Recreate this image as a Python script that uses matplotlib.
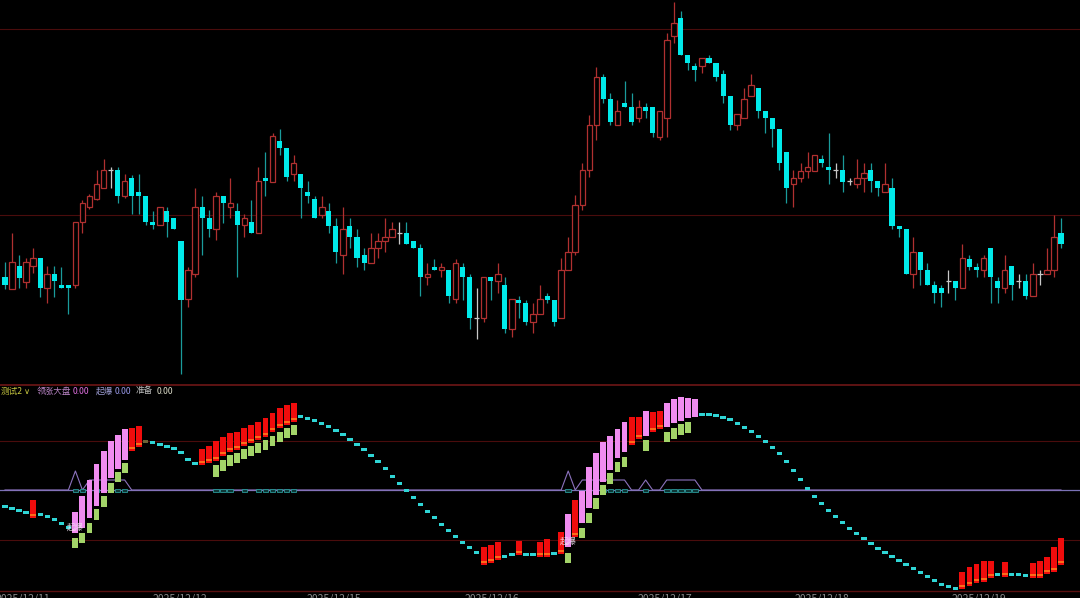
import numpy as np
import matplotlib
matplotlib.use("Agg")
from matplotlib import pyplot as plt
from matplotlib import transforms as mtrans

plt.rcParams['font.family'] = ['Noto Sans CJK SC', 'DejaVu Sans']

# ---- price bars (151 intraday bars) ----
open_ = [123, 111, 134, 118, 134, 142, 112, 126, 115, 115,
         115, 178, 193, 201, 212, 230, 230, 204, 222, 208,
         204, 178, 175, 189, 182, 159, 101, 126, 193, 182,
         171, 204, 193, 189, 175, 178, 167, 222, 218, 259,
         252, 226, 226, 208, 201, 185, 189, 174, 145, 174,
         163, 145, 137, 152, 159, 163, 167, 167, 159, 152,
         123, 133, 130, 130, 101, 133, 123, 82, 82, 123,
         119, 115, 71, 100, 97, 78, 86, 104, 100, 82,
         130, 148, 195, 230, 275, 323, 301, 275, 297, 293,
         282, 293, 293, 263, 282, 364, 382, 345, 334, 334,
         342, 337, 326, 304, 275, 282, 304, 312, 289, 282,
         271, 248, 216, 222, 229, 229, 241, 233, 230, 230,
         219, 216, 222, 230, 219, 208, 212, 174, 171, 126,
         148, 130, 115, 112, 119, 119, 112, 141, 133, 130,
         152, 119, 112, 134, 119, 119, 104, 126, 126, 130,
         167]
high = [138, 167, 145, 142, 152, 142, 134, 134, 133, 115,
        178, 200, 206, 230, 241, 233, 233, 226, 225, 226,
        204, 189, 193, 193, 182, 159, 133, 212, 204, 190,
        208, 204, 222, 197, 186, 200, 233, 248, 267, 271,
        252, 245, 226, 219, 204, 204, 197, 182, 193, 182,
        171, 152, 167, 167, 182, 178, 178, 178, 159, 156,
        137, 141, 137, 130, 141, 137, 126, 112, 123, 123,
        137, 123, 101, 104, 100, 97, 115, 107, 100, 142,
        163, 205, 237, 285, 333, 326, 307, 300, 319, 307,
        300, 297, 293, 289, 367, 398, 389, 345, 337, 342,
        345, 337, 330, 304, 286, 312, 326, 312, 289, 282,
        271, 248, 230, 237, 248, 245, 245, 267, 237, 245,
        222, 241, 237, 237, 219, 237, 222, 174, 171, 163,
        148, 137, 119, 115, 130, 119, 156, 145, 137, 145,
        152, 123, 145, 134, 126, 126, 137, 130, 152, 185,
        182]
low = [111, 111, 112, 112, 127, 103, 97, 103, 112, 86,
       112, 167, 191, 200, 212, 212, 197, 202, 186, 186,
       175, 171, 175, 163, 171, 26, 93, 123, 145, 163,
       160, 177, 182, 123, 163, 167, 167, 204, 218, 245,
       219, 219, 182, 197, 182, 182, 167, 137, 126, 152,
       133, 130, 137, 142, 148, 163, 156, 156, 152, 104,
       115, 130, 123, 97, 97, 100, 71, 61, 78, 100,
       107, 67, 63, 82, 75, 67, 86, 97, 74, 82,
       130, 145, 190, 223, 260, 297, 275, 275, 293, 275,
       278, 282, 263, 260, 263, 357, 345, 330, 319, 327,
       337, 319, 297, 270, 270, 282, 304, 282, 267, 253,
       230, 197, 193, 218, 222, 229, 233, 216, 222, 208,
       215, 212, 208, 208, 204, 208, 171, 163, 126, 112,
       115, 115, 97, 93, 107, 100, 112, 130, 123, 123,
       97, 97, 107, 100, 112, 101, 104, 115, 126, 123,
       152]
close = [115, 138, 122, 138, 142, 112, 126, 119, 112, 112,
         178, 197, 204, 216, 230, 230, 204, 219, 204, 204,
         178, 175, 193, 178, 171, 100, 130, 193, 182, 171,
         204, 197, 197, 175, 182, 167, 219, 219, 264, 252,
         223, 237, 212, 204, 182, 193, 174, 148, 171, 163,
         142, 137, 152, 159, 163, 171, 167, 156, 152, 123,
         126, 130, 133, 104, 137, 123, 82, 82, 123, 119,
         126, 71, 101, 97, 78, 86, 101, 100, 78, 130,
         148, 195, 230, 275, 323, 301, 278, 289, 293, 278,
         293, 289, 267, 289, 360, 377, 345, 337, 330, 342,
         337, 323, 304, 275, 286, 301, 315, 289, 282, 271,
         237, 212, 222, 229, 233, 245, 237, 230, 230, 218,
         219, 222, 227, 219, 212, 216, 174, 171, 126, 148,
         130, 115, 107, 107, 119, 112, 142, 133, 130, 142,
         123, 112, 130, 115, 119, 104, 126, 126, 130, 163,
         156]

# ---- indicator "测试2" ----
wave = [94, 92, 90, 88, 82, 86, 84, 81, 77, 73,
        67, 72, 82, 94, 107, 122, 131, 140, 149, 153,
        159, 158, 156, 154, 152, 148, 141, 137, 135, 137,
        139, 144, 148, 150, 154, 157, 160, 163, 168, 172,
        175, 178, 184, 182, 180, 177, 174, 170, 166, 161,
        156, 151, 145, 139, 132, 124, 117, 110, 103, 96,
        89, 83, 76, 70, 64, 58, 53, 48, 35, 37,
        40, 44, 46, 45, 46, 46, 43, 43, 47, 46,
        53, 63, 77, 92, 105, 118, 130, 142, 148, 155,
        161, 164, 168, 171, 173, 177, 179, 182, 183, 186,
        186, 185, 183, 181, 177, 173, 169, 164, 159, 153,
        147, 139, 130, 121, 112, 104, 97, 90, 84, 78,
        72, 67, 62, 57, 52, 48, 44, 40, 36, 32,
        28, 24, 20, 16, 14, 12, 11, 14, 17, 18,
        22, 26, 23, 26, 26, 25, 22, 22, 26, 28,
        35]

red_idx = [4, 18, 19, 28, 29, 30, 31, 32, 33, 34, 35, 36, 37, 38, 39, 40, 41,
           68, 69, 70, 73, 76, 77, 79, 81, 89, 90, 92, 93,
           136, 137, 138, 139, 140, 142, 146, 147, 148, 149, 150]
red_top = [100, 172, 174, 151, 154, 159, 163, 167, 168, 172, 175, 178, 182, 187, 192, 195, 197,
           53, 55, 58, 59, 58, 61, 68, 100, 183, 183, 188, 189,
           28, 33, 36, 39, 39, 38, 37, 39, 43, 53, 62]

pink_idx = [10, 11, 12, 13, 14, 15, 16, 17, 80, 82, 83, 84, 85, 86, 87, 88,
            91, 94, 95, 96, 97, 98]
pink_top = [88, 104, 120, 136, 149, 159, 165, 171, 86, 109, 133, 147, 158, 164, 171, 178,
            189, 197, 201, 203, 202, 201]

green_idx = [10, 11, 12, 13, 14, 15, 16, 17,
             30, 31, 32, 33, 34, 35, 36, 37, 38, 39, 40, 41,
             80, 82, 83, 84, 85, 86, 87, 88, 91, 94, 95, 96, 97]
green_hi = [62, 67, 77, 91, 104, 117, 128, 137,
            135, 140, 145, 147, 151, 154, 157, 160, 164, 168, 172, 175,
            47, 72, 87, 102, 115, 127, 138, 143, 160, 168, 172, 176, 178]
green_lo = [52, 57, 67, 80, 93, 107, 118, 127,
            123, 129, 134, 137, 141, 144, 147, 150, 154, 158, 162, 165,
            37, 62, 77, 91, 105, 116, 128, 133, 149, 158, 161, 165, 167]

sig_base = 110
sig_idx = [10, 12, 13, 14, 15, 16, 17, 80, 82, 83, 84, 85, 86, 87, 88, 91, 94, 95, 96, 97, 98]
sig_val = [129, 120, 120, 120, 120, 120, 120, 129, 120, 120, 120, 120, 120, 120, 120,
           120, 120, 120, 120, 120, 120]
mark_idx = [10, 11, 13, 14, 15, 16, 17, 30, 31, 32, 34, 36, 37, 38, 39, 40, 41,
            80, 85, 86, 87, 88, 91, 94, 95, 96, 97, 98]
boom_idx = [10, 80]
dim_idx = [20]   # the one dull dash right after the first red run

date_pos = [-1.4, 20.9, 42.9, 65.3, 89.9, 112.2, 134.5]
date_lab = ["2025/12/11", "2025/12/12", "2025/12/15", "2025/12/16",
            "2025/12/17", "2025/12/18", "2025/12/19"]

W, H = 1080, 598
fig = plt.figure(figsize=(W / 100, H / 100), dpi=100, facecolor='black')
ax = fig.add_axes([0, 1 - 384 / H, 1, 384 / H])
ax2 = fig.add_axes([0, 1 - 592 / H, 1, 208 / H])
for a in (ax, ax2):
    a.set_facecolor('black')
    a.set_xlim(-0.71, 152.7)
    a.set_xticks([])
    a.set_yticks([])
    for s in a.spines.values():
        s.set_visible(False)
ax.set_ylim(16, 400)
ax2.set_ylim(8, 216)

# grid lines
for gy in (371, 185):
    ax.axhline(gy, color='#4a0c0c', lw=0.8, zorder=0)
for gy in (159, 60):
    ax2.axhline(gy, color='#4a0c0c', lw=0.8, zorder=0)
ax2.axhline(215.5, color='#6e1616', lw=1.2, zorder=0, clip_on=False)
ax2.axhline(8.6, color='#5a1010', lw=1.0, zorder=0, clip_on=False)

# candles
o = np.array(open_, float)
h = np.array(high, float)
l = np.array(low, float)
c = np.array(close, float)
x = np.arange(len(o))
up = c > o
dn = c < o
eq = c == o
red_c = '#b03030'
ax.vlines(x[up], l[up], h[up], color=red_c, lw=0.9, zorder=2)
ax.vlines(x[dn], l[dn], h[dn], color='#1a9c9c', lw=0.9, zorder=2)
ax.vlines(x[eq], l[eq], h[eq], color='#c8c8c8', lw=0.9, zorder=2)
ax.bar(x[up], c[up] - o[up], bottom=o[up], width=0.78, facecolor='black',
       edgecolor=red_c, lw=0.9, zorder=3)
ax.bar(x[dn], o[dn] - c[dn], bottom=c[dn], width=0.72, color='#00eaea', lw=0, zorder=3)
ax.hlines(o[eq], x[eq] - 0.38, x[eq] + 0.38, color='#c8c8c8', lw=0.9, zorder=3)

# indicator
wv = np.array(wave, float)
covered = set(red_idx) | set(pink_idx)
dash = np.array([i for i in range(len(wv)) if i not in covered and i not in dim_idx])
ax2.axhline(sig_base, color='#7a72b6', lw=0.9, zorder=1)
sig = np.full(len(wv), float(sig_base))
sig[sig_idx] = sig_val
ax2.plot(np.arange(len(wv)), sig, color='#8c72be', lw=0.8, zorder=2)
mi = np.array(mark_idx)
ax2.bar(mi, 3, bottom=sig_base - 1.5, width=0.8, facecolor='#0e3838',
        edgecolor='#2a9898', lw=0.6, zorder=2)

ax2.bar(dash, 3, bottom=wv[dash] - 1.5, width=0.75, color='#2fd5d5', lw=0, zorder=3)
di = np.array(dim_idx)
ax2.bar(di, 3, bottom=wv[di] - 1.5, width=0.75, color='#6a6234', lw=0, zorder=3)
ri = np.array(red_idx)
ax2.bar(ri, np.array(red_top) - wv[ri], bottom=wv[ri], width=0.84,
        color='#f00c0c', lw=0, zorder=3)
ax2.hlines(wv[ri] + 3, ri - 0.42, ri + 0.42, color='#ff8a1e', lw=1.1, zorder=4)
pi = np.array(pink_idx)
ax2.bar(pi, np.array(pink_top) - wv[pi], bottom=wv[pi], width=0.84,
        color='#f08cf0', lw=0, zorder=3)
gi = np.array(green_idx)
ax2.bar(gi, np.array(green_hi) - np.array(green_lo), bottom=green_lo, width=0.84,
        color='#a3d469', lw=0, zorder=3)
for b in boom_idx:
    ax2.text(b, wv[b] + 6, "起爆", color='#f4e4f4', alpha=0.85, fontsize=6,
             ha='center', va='center', zorder=5)

# header
def ft(px, py, s, col, **kw):
    fig.text(px / W, 1 - py / H, s, color=col, fontsize=kw.pop('fontsize', 6.2),
             ha='left', va='center', **kw)

ft(1, 391, "测试2", '#c8c840')
ft(24, 391.5, "∨", '#c8c840', fontsize=6, family=['DejaVu Sans'])
ft(37, 391, "领涨大盘", '#b884c4')
ft(73, 391, "0.00", '#e070e0')
ft(96, 391, "起爆", '#9a9ad0')
ft(115, 391, "0.00", '#9898e8')
ft(136, 391, "准备", '#bdbdbd')
ft(157, 391, "0.00", '#dcdcc8')

# dates (cut by bottom edge, as in the terminal screenshot)
tr = mtrans.blended_transform_factory(ax2.transData, fig.transFigure)
for p, s in zip(date_pos, date_lab):
    ax2.text(p, 1 - 593.5 / H, s, transform=tr, color='#8a8a8a', fontsize=7.5,
             ha='left', va='top', clip_on=False)

fig.savefig('out.png', dpi=100, facecolor='black')
